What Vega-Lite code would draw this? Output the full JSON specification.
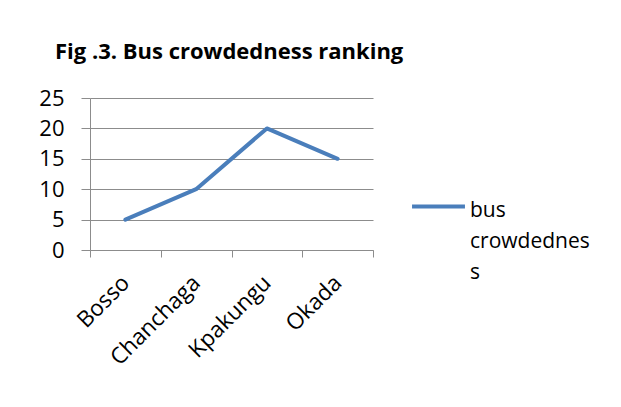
{
  "$schema": "https://vega.github.io/schema/vega-lite/v6.json",
  "autosize": {"type": "none"},
  "width": 283,
  "height": 152,
  "padding": {"left": 90, "top": 98, "right": 248, "bottom": 157},
  "background": "white",
  "title": {
    "text": "Fig .3. Bus crowdedness ranking",
    "anchor": "start",
    "frame": "group",
    "dx": -35,
    "offset": 6,
    "baseline": "alphabetic",
    "font": "Open Sans",
    "fontSize": 22,
    "fontWeight": "bold",
    "color": "#000000"
  },
  "data": {
    "values": [
      {"area": "Bosso", "value": 5, "series": "bus crowdedness"},
      {"area": "Chanchaga", "value": 10, "series": "bus crowdedness"},
      {"area": "Kpakungu", "value": 20, "series": "bus crowdedness"},
      {"area": "Okada", "value": 15, "series": "bus crowdedness"}
    ]
  },
  "mark": {"type": "line", "strokeWidth": 4, "strokeCap": "round", "strokeJoin": "round"},
  "encoding": {
    "x": {
      "field": "area",
      "type": "nominal",
      "sort": null,
      "scale": {"paddingInner": 0, "paddingOuter": 0},
      "axis": {
        "title": null,
        "tickBand": "extent",
        "grid": false,
        "labelAngle": -45,
        "labelAlign": "right",
        "labelBaseline": "middle",
        "labelPadding": 22,
        "tickSize": 7,
        "tickColor": "#8c8c8c",
        "domainColor": "#8c8c8c",
        "labelFont": "Open Sans",
        "labelFontSize": 22.5,
        "labelColor": "#000000"
      }
    },
    "y": {
      "field": "value",
      "type": "quantitative",
      "scale": {"domain": [0, 25], "nice": false},
      "axis": {
        "title": null,
        "values": [0, 5, 10, 15, 20, 25],
        "grid": true,
        "gridColor": "#8c8c8c",
        "gridWidth": 1,
        "tickSize": 9,
        "tickColor": "#8c8c8c",
        "domainColor": "#8c8c8c",
        "labelPadding": 17,
        "labelFont": "Open Sans",
        "labelFontSize": 22,
        "labelColor": "#000000"
      }
    },
    "color": {
      "field": "series",
      "type": "nominal",
      "scale": {"range": ["#4a7ebb"]},
      "legend": {
        "title": null,
        "orient": "none",
        "legendX": 320,
        "legendY": 80,
        "symbolType": "stroke",
        "symbolSize": 2800,
        "symbolStrokeWidth": 4,
        "labelOffset": 3,
        "labelFont": "Open Sans",
        "labelFontSize": 21,
        "labelColor": "#000000",
        "labelBaseline": "alphabetic",
        "labelExpr": "['bus','crowdednes','s']",
        "labelLimit": 0,
        "encode": {"labels": {"update": {"lineHeight": {"value": 31}, "dy": {"value": 10}}}}
      }
    }
  },
  "config": {"view": {"stroke": null}}
}
